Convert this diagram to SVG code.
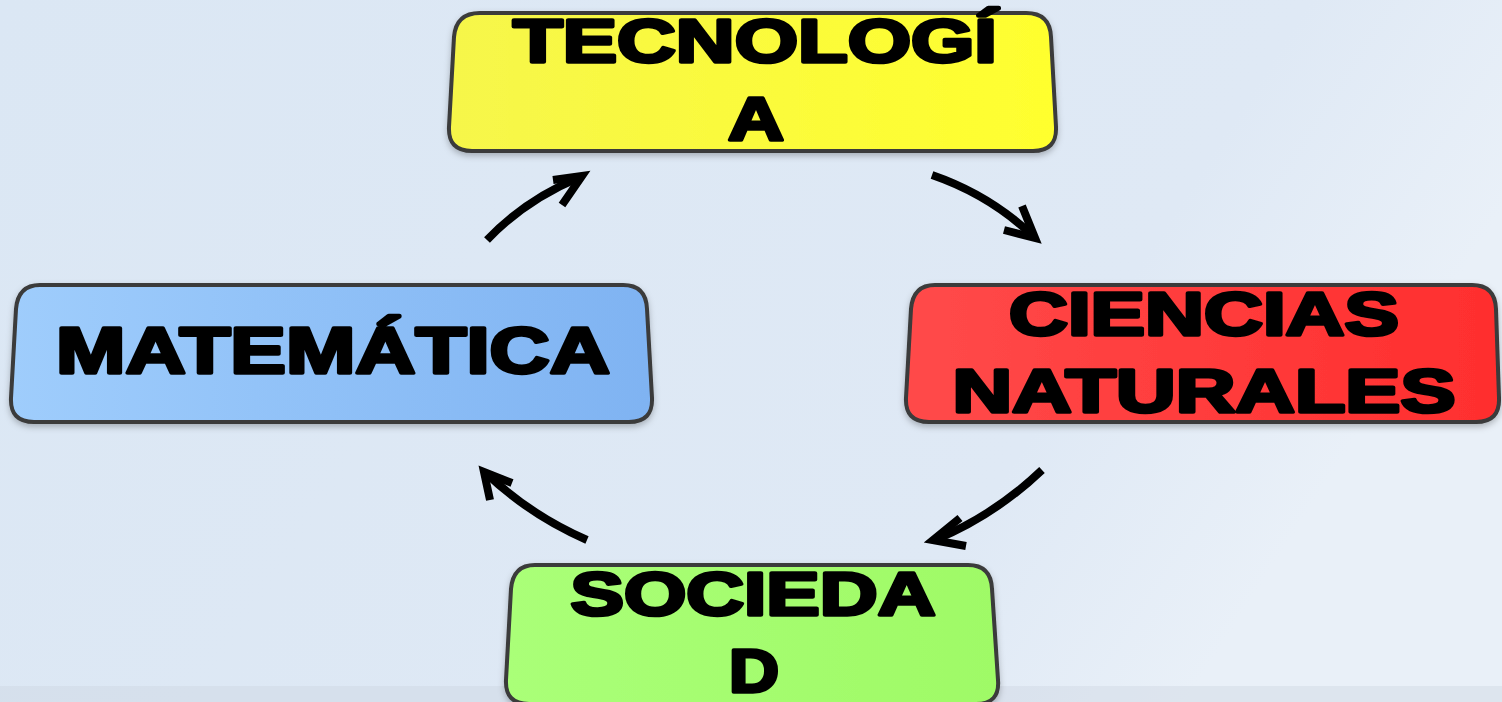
<svg xmlns="http://www.w3.org/2000/svg" width="1502" height="702" viewBox="0 0 1502 702">
<defs>
<linearGradient id="bg" x1="0" y1="0" x2="1" y2="0.3">
<stop offset="0" stop-color="#dbe7f4"/>
<stop offset="0.8" stop-color="#dfe9f5"/>
<stop offset="1" stop-color="#e9f0f8"/>
</linearGradient>
<linearGradient id="gy" x1="0" y1="0" x2="1" y2="0"><stop offset="0" stop-color="#f6f64a"/><stop offset="1" stop-color="#ffff2e"/></linearGradient>
<linearGradient id="gb" x1="0" y1="0" x2="1" y2="0"><stop offset="0" stop-color="#9fcdfc"/><stop offset="1" stop-color="#7fb3f2"/></linearGradient>
<linearGradient id="gr" x1="0" y1="0" x2="1" y2="0"><stop offset="0" stop-color="#ff4a4a"/><stop offset="1" stop-color="#ff2e2e"/></linearGradient>
<linearGradient id="gg" x1="0" y1="0" x2="1" y2="0"><stop offset="0" stop-color="#aaff78"/><stop offset="1" stop-color="#9ffa66"/></linearGradient>
<filter id="sh" x="-5%" y="-10%" width="110%" height="130%"><feDropShadow dx="0" dy="3" stdDeviation="3" flood-color="#000" flood-opacity="0.25"/></filter>
</defs>
<style>
.box{stroke:#3a3a3a;stroke-width:4;filter:url(#sh)}
.t{font-family:"Liberation Sans",Arial,sans-serif;font-weight:bold;fill:#000;stroke:#000;stroke-width:3.5;stroke-linejoin:round;text-anchor:middle}
.arr{fill:none;stroke:#000;stroke-width:8;stroke-linecap:butt;stroke-linejoin:miter}
</style>
<rect x="0" y="0" width="1502" height="702" fill="url(#bg)"/>
<rect x="0" y="686" width="1502" height="16" fill="#c9d2dc" opacity="0.35"/>

<g id="tecnologia">
<path class="box" fill="url(#gy)" d="M480,13 L1026,13 Q1050,13 1051,37 L1056,127 Q1057,151 1033,151 L472,151 Q448,151 449,127 L454,37 Q456,13 480,13 Z"/>
<text class="t" x="755" y="62" font-size="61" textLength="484" lengthAdjust="spacingAndGlyphs">TECNOLOGÍ</text>
<text class="t" x="756" y="140" font-size="61" textLength="56" lengthAdjust="spacingAndGlyphs">A</text>
</g>

<g id="matematica">
<path class="box" fill="url(#gb)" d="M40,285 L623,285 Q646,285 647,309 L652,398 Q653,422 629,422 L34,422 Q10,422 11,398 L16,309 Q18,285 40,285 Z"/>
<text class="t" x="333" y="373" font-size="64" textLength="554" lengthAdjust="spacingAndGlyphs">MATEMÁTICA</text>
</g>

<g id="ciencias">
<path class="box" fill="url(#gr)" d="M935,285 L1472,285 Q1495,285 1496,309 L1499,398 Q1500,422 1476,422 L929,422 Q905,422 906,398 L911,309 Q913,285 935,285 Z"/>
<text class="t" x="1204" y="335" font-size="61" textLength="390" lengthAdjust="spacingAndGlyphs">CIENCIAS</text>
<text class="t" x="1204" y="412" font-size="61" textLength="503" lengthAdjust="spacingAndGlyphs">NATURALES</text>
</g>

<g id="sociedad">
<path class="box" fill="url(#gg)" d="M535,565 L968,565 Q991,565 992,589 L998,680 Q1000,704 976,704 L529,704 Q505,704 506,680 L511,589 Q513,565 535,565 Z"/>
<text class="t" x="753" y="615" font-size="61" textLength="365" lengthAdjust="spacingAndGlyphs">SOCIEDA</text>
<text class="t" x="754" y="692" font-size="61" textLength="50" lengthAdjust="spacingAndGlyphs">D</text>
</g>

<g id="connectors">
<path class="arr" d="M487,240 Q525,200 580,177"/>
<path class="arr" d="M553,180 L582,176 L562,205"/>
<path class="arr" d="M932,175 Q990,195 1033,236"/>
<path class="arr" d="M1022,206 L1035,238 L1004,230"/>
<path class="arr" d="M1042,470 Q995,515 935,540"/>
<path class="arr" d="M960,518 L933,540 L966,546"/>
<path class="arr" d="M587,540 Q530,515 487,474"/>
<path class="arr" d="M490,500 L484,472 L512,483"/>
</g>
</svg>
